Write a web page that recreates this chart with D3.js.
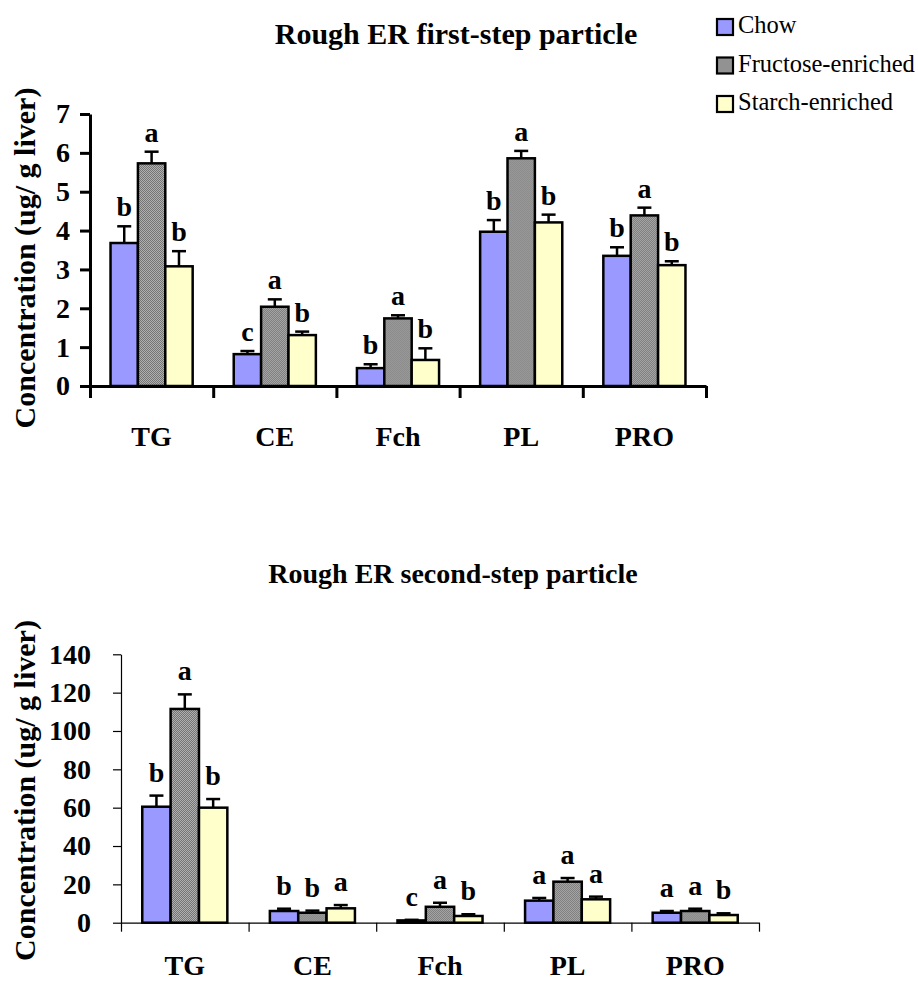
<!DOCTYPE html>
<html>
<head>
<meta charset="utf-8">
<script src="https://cdn.jsdelivr.net/npm/d3@7"></script>
<style>
  html, body { margin: 0; padding: 0; background: #ffffff; }
  svg { display: block; }
  svg text { font-family: "Liberation Serif", Tinos, "Times New Roman", Times, "Noto Serif", "DejaVu Serif", serif !important; fill: #000; }
</style>
</head>
<body>
<svg id="chart" width="918" height="981"></svg>
<script>
// Lipid classes measured in each particle fraction
const categories = ["TG", "CE", "Fch", "PL", "PRO"];
const dietGroups = ["Chow", "Fructose-enriched", "Starch-enriched"];

// First-step particle: mean concentration (ug/g liver) and SE
const firstChow = [3.68, 0.82, 0.46, 3.97, 3.35];
const firstFructose = [5.73, 2.04, 1.74, 5.86, 4.39];
const firstStarch = [3.08, 1.31, 0.67, 4.21, 3.11];
const firstChowErr = [0.43, 0.08, 0.10, 0.30, 0.22];
const firstFructoseErr = [0.30, 0.19, 0.08, 0.19, 0.20];
const firstStarchErr = [0.39, 0.09, 0.30, 0.20, 0.10];
const firstChowSig = ["b", "c", "b", "b", "b"];
const firstFructoseSig = ["a", "a", "a", "a", "a"];
const firstStarchSig = ["b", "b", "b", "b", "b"];
const firstTicks = [0, 1, 2, 3, 4, 5, 6, 7];

// Second-step particle: mean concentration (ug/g liver) and SE
const secondChow = [60.5, 6.1, 1.2, 11.5, 5.2];
const secondFructose = [111.5, 5.2, 8.3, 21.4, 6.1];
const secondStarch = [60.0, 7.5, 3.5, 12.2, 4.0];
const secondChowErr = [5.8, 1.2, 0.3, 1.4, 0.9];
const secondFructoseErr = [7.6, 1.1, 2.1, 1.9, 1.2];
const secondStarchErr = [4.5, 1.7, 0.9, 1.4, 0.9];
const secondChowSig = ["b", "b", "c", "a", "a"];
const secondFructoseSig = ["a", "b", "a", "a", "a"];
const secondStarchSig = ["b", "a", "b", "a", "b"];
const secondTicks = [0, 20, 40, 60, 80, 100, 120, 140];

const fills = ["#9999ff", "url(#stipple)", "#ffffcc"];
const SERIF = "'Liberation Serif', Tinos, 'Times New Roman', Times, 'Noto Serif', 'DejaVu Serif', serif";

const svg = d3.select("#chart").style("font-family", SERIF);

// Stippled gray fill for the fructose bars
const defs = svg.append("defs");
const pat = defs.append("pattern")
  .attr("id", "stipple").attr("patternUnits", "userSpaceOnUse")
  .attr("width", 2).attr("height", 2);
pat.append("rect").attr("width", 2).attr("height", 2).attr("fill", "#b0b0b0");
pat.append("rect").attr("width", 1).attr("height", 1).attr("fill", "#747474");
pat.append("rect").attr("x", 1).attr("y", 1).attr("width", 1).attr("height", 1).attr("fill", "#747474");

function rows(means, errs, sigs) {
  return categories.map((c, i) => ({
    cat: c,
    values: dietGroups.map((g, j) => ({ group: g, idx: j, v: means[j][i], e: errs[j][i], s: sigs[j][i] }))
  }));
}

function drawPanel(opt) {
  const g = svg.append("g").attr("font-family", SERIF);
  const x = d3.scaleBand().domain(categories).range([opt.x0, opt.x1]);
  const bw = x.bandwidth();
  const xs = d3.scaleBand().domain(dietGroups).range([bw / 6, bw * 5 / 6]);
  const y = d3.scaleLinear().domain([0, opt.ticks[opt.ticks.length - 1]]).range([opt.y0, opt.y1]);
  const data = rows(opt.means, opt.errs, opt.sigs);

  // Title
  g.append("text")
    .attr("x", opt.titleX).attr("y", opt.titleY)
    .attr("text-anchor", "middle")
    .attr("font-size", opt.titleSize).attr("font-weight", "bold")
    .text(opt.title);

  // Y axis label
  g.append("text")
    .attr("transform", `translate(${opt.labelX},${(opt.y0 + opt.y1) / 2 + opt.labelShift}) rotate(-90)`)
    .attr("text-anchor", "middle")
    .attr("font-size", 30).attr("font-weight", "bold")
    .text("Concentration (ug/ g liver)");

  // Bars
  const grp = g.selectAll(".grp").data(data).join("g")
    .attr("transform", d => `translate(${x(d.cat)},0)`);
  grp.selectAll("rect").data(d => d.values).join("rect")
    .attr("x", d => xs(d.group))
    .attr("y", d => y(d.v))
    .attr("width", xs.bandwidth())
    .attr("height", d => y(0) - y(d.v))
    .attr("fill", d => fills[d.idx])
    .attr("stroke", "#000").attr("stroke-width", opt.barStroke);

  // Error bars (upper arm only)
  const eb = grp.selectAll(".eb").data(d => d.values).join("g").attr("class", "eb");
  eb.append("line")
    .attr("x1", d => xs(d.group) + xs.bandwidth() / 2)
    .attr("x2", d => xs(d.group) + xs.bandwidth() / 2)
    .attr("y1", d => y(d.v)).attr("y2", d => y(d.v + d.e))
    .attr("stroke", "#000").attr("stroke-width", 2.5);
  eb.append("line")
    .attr("x1", d => xs(d.group) + xs.bandwidth() / 2 - 7)
    .attr("x2", d => xs(d.group) + xs.bandwidth() / 2 + 7)
    .attr("y1", d => y(d.v + d.e)).attr("y2", d => y(d.v + d.e))
    .attr("stroke", "#000").attr("stroke-width", 2.5);

  // Significance letters
  grp.selectAll(".sig").data(d => d.values).join("text").attr("class", "sig")
    .attr("x", d => xs(d.group) + xs.bandwidth() / 2)
    .attr("y", d => y(d.v + d.e) - opt.sigGap)
    .attr("text-anchor", "middle")
    .attr("font-size", 28).attr("font-weight", "bold")
    .text(d => d.s);

  // Y axis
  const yAxis = g.append("g").attr("transform", `translate(${opt.x0},0)`)
    .call(d3.axisLeft(y).tickValues(opt.ticks).tickFormat(d3.format("d"))
      .tickSize(opt.yTick).tickPadding(opt.yPad).tickSizeOuter(0));
  yAxis.attr("font-family", SERIF);
  yAxis.select(".domain").attr("stroke", "#000").attr("stroke-width", opt.axisStroke);
  yAxis.selectAll(".tick line").attr("stroke", "#000").attr("stroke-width", opt.axisStroke);
  yAxis.selectAll(".tick text")
    .attr("font-size", 28).attr("font-weight", "bold").attr("fill", "#000");

  // X axis: ticks at category boundaries
  const xb = d3.scaleLinear().domain([0, categories.length]).range([opt.x0, opt.x1]);
  const xAxis = g.append("g").attr("transform", `translate(0,${opt.y0})`)
    .call(d3.axisBottom(xb).tickValues(d3.range(categories.length + 1)).tickFormat("")
      .tickSize(opt.xTick).tickSizeOuter(0));
  xAxis.select(".domain").attr("stroke", "#000").attr("stroke-width", opt.axisStroke);
  xAxis.selectAll(".tick line").attr("stroke", "#000").attr("stroke-width", opt.axisStroke);

  // Category labels
  const xl = g.append("g").attr("transform", `translate(0,${opt.catY})`)
    .call(d3.axisBottom(x).tickSize(0).tickPadding(0));
  xl.attr("font-family", SERIF);
  xl.select(".domain").remove();
  xl.selectAll(".tick text")
    .attr("font-size", 28).attr("font-weight", "bold").attr("fill", "#000")
    .attr("dy", 0).attr("y", 0);
}

drawPanel({
  title: "Rough ER first-step particle", titleX: 456, titleY: 44, titleSize: 30,
  means: [firstChow, firstFructose, firstStarch],
  errs: [firstChowErr, firstFructoseErr, firstStarchErr],
  sigs: [firstChowSig, firstFructoseSig, firstStarchSig],
  ticks: firstTicks,
  x0: 90, x1: 706, y0: 386, y1: 114,
  barStroke: 2.5, axisStroke: 3, yTick: 10, yPad: 10, xTick: 12,
  sigGap: 10, catY: 446, labelX: 35, labelShift: 8
});

drawPanel({
  title: "Rough ER second-step particle", titleX: 453, titleY: 583, titleSize: 28,
  means: [secondChow, secondFructose, secondStarch],
  errs: [secondChowErr, secondFructoseErr, secondStarchErr],
  sigs: [secondChowSig, secondFructoseSig, secondStarchSig],
  ticks: secondTicks,
  x0: 121, x1: 759, y0: 922.7, y1: 654.3,
  barStroke: 2.5, axisStroke: 1.2, yTick: 8, yPad: 22, xTick: 9,
  sigGap: 14, catY: 975, labelX: 35, labelShift: 2
});

// Legend
const legend = svg.append("g").attr("transform", "translate(716,18)").attr("font-family", SERIF);
const li = legend.selectAll("g").data(dietGroups).join("g")
  .attr("transform", (d, i) => `translate(0,${i * 38.5})`);
li.append("rect").attr("x", 1).attr("y", 1).attr("width", 16).attr("height", 16)
  .attr("fill", (d, i) => fills[i]).attr("stroke", "#000").attr("stroke-width", 2.2);
li.append("text").attr("x", 22).attr("y", 15)
  .attr("font-size", 24.5).text(d => d);
</script>
</body>
</html>
